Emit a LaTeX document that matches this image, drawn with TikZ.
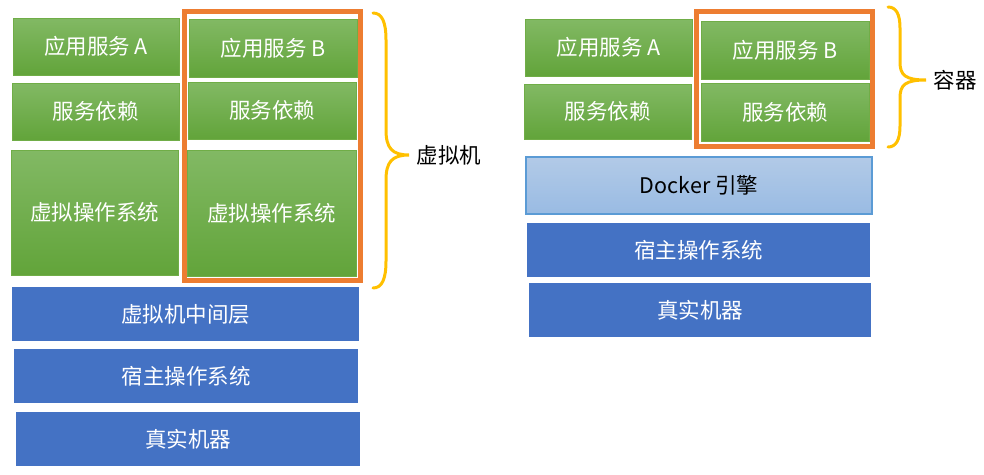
\documentclass[tikz,border=0pt]{standalone}
\usepackage{fontspec}
\setmainfont{Noto Sans CJK SC}
\usetikzlibrary{positioning,calc}
\usepackage{xcolor}

\definecolor{greentop}{HTML}{82B964}
\definecolor{greenbot}{HTML}{62A43A}
\definecolor{greenline}{HTML}{70AD47}
\definecolor{hostblue}{HTML}{4472C4}
\definecolor{enginetop}{HTML}{B2CAE7}
\definecolor{enginebot}{HTML}{99BBE3}
\definecolor{engineline}{HTML}{5B9BD5}
\definecolor{frameorange}{HTML}{ED7D31}
\definecolor{bracegold}{HTML}{FFC000}

\begin{document}
\begin{tikzpicture}[
			x=1pt, y=-1pt,
			% all layers are placed by their top left corner
			layer/.style={rectangle, anchor=north west, inner sep=0pt, outer sep=0pt, font=\fontsize{21.5}{24}\selectfont},
			appbox/.style={layer, top color=greentop, bottom color=greenbot, draw=greenline, line width=1pt, text=white},
			hostbox/.style={layer, fill=hostblue, text=white},
			enginebox/.style={layer, top color=enginetop, bottom color=enginebot, draw=engineline, line width=1.2pt, text=black},
			frame/.style={draw=frameorange, line width=5pt},
			bracecurve/.style={draw=bracegold, line width=3pt, line cap=round},
			bracelabel/.style={font=\fontsize{21.5}{24}\selectfont, text=black}
			]
			
			\useasboundingbox (0,0) rectangle (984,474);
			
			% Left: virtual machines
			\node[appbox, minimum width=166pt, minimum height=57pt] (appA) at (13,18) {应用服务 A};
			\node[appbox, minimum width=168pt, minimum height=58pt] (appB) at (189,19) {应用服务 B};
			\node[appbox, minimum width=167pt, minimum height=57pt] (depA) at (12,83) {服务依赖};
			\node[appbox, minimum width=168pt, minimum height=57pt] (depB) at (188,82) {服务依赖};
			\node[appbox, minimum width=167pt, minimum height=125pt] (osA) at (11,150) {虚拟操作系统};
			\node[appbox, minimum width=169pt, minimum height=126pt] (osB) at (187,150) {虚拟操作系统};
			
			\node[hostbox, minimum width=347pt, minimum height=54pt] (midL) at (12,287) {虚拟机中间层};
			\node[hostbox, minimum width=344pt, minimum height=54pt] (hostL) at (14,349) {宿主操作系统};
			\node[hostbox, minimum width=344pt, minimum height=54pt] (hwL) at (16,412) {真实机器};
			
			\draw[frame] (184.5,11.5) rectangle (360.5,280.5);
			
			% Brace: virtual machine
			\draw[bracecurve] (373,13) .. controls (382,13) and (386,22) .. (386,40) -- (386,130)
				.. controls (386,148) and (392,155) .. (409,155)
				.. controls (392,155) and (386,162) .. (386,180) -- (386,261)
				.. controls (386,279) and (382,288) .. (373,288);
			\node[bracelabel, anchor=west] (vmlabel) at (413,155) {虚拟机};
			
			% Right: containers
			\node[appbox, minimum width=167pt, minimum height=57pt] (appA2) at (525,19) {应用服务 A};
			\node[appbox, minimum width=167pt, minimum height=55pt] (depA2) at (524,84) {服务依赖};
			\node[appbox, minimum width=168pt, minimum height=58pt] (appB2) at (701,21) {应用服务 B};
			\node[appbox, minimum width=168pt, minimum height=58pt] (depB2) at (701,83) {服务依赖};
			
			\draw[frame] (696.5,11.5) rectangle (872.5,146.5);
			
			\node[enginebox, minimum width=346pt, minimum height=57pt] (docker) at (526,157) {Docker 引擎};
			\node[hostbox, minimum width=343pt, minimum height=54pt] (hostR) at (527,223) {宿主操作系统};
			\node[hostbox, minimum width=342pt, minimum height=54pt] (hwR) at (529,283) {真实机器};
			
			% Brace: container
			\draw[bracecurve] (888,7) .. controls (896,7) and (900,14) .. (900,28) -- (900,62)
				.. controls (900,75) and (905,80) .. (926,80)
				.. controls (905,80) and (900,85) .. (900,98) -- (900,126)
				.. controls (900,140) and (896,147) .. (888,147);
			\node[bracelabel, anchor=west] (ctlabel) at (930,80) {容器};
			
		\end{tikzpicture}
\end{document}
